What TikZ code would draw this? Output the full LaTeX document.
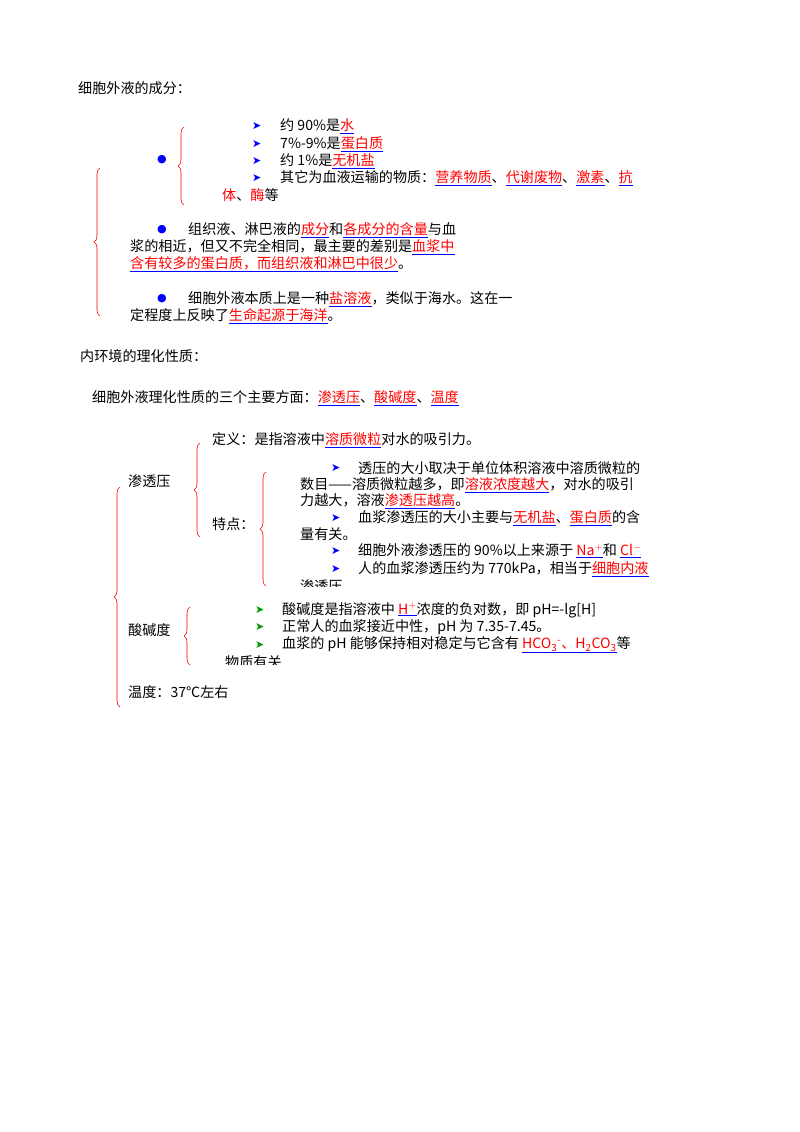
\documentclass[tikz,border=0pt]{standalone}
\usepackage{fontspec}
\setmainfont{Noto Sans CJK SC}
\newfontfamily\symfont{DejaVu Sans}
\usetikzlibrary{decorations.pathreplacing}
\newcommand\hl[1]{\textcolor{blue}{\underline{\textcolor{red}{#1}}}}
\newcommand\arr{\textcolor{blue}{\symfont\fontsize{11}{12}\selectfont ➤}}
\newcommand\garr{\textcolor{green!60!black}{\symfont\fontsize{11}{12}\selectfont ➤}}
\newcommand\dotb{\textcolor{blue}{\symfont\fontsize{11}{12}\selectfont ●}}
\tikzset{
  txt/.style={anchor=west,inner sep=0pt,font=\fontsize{14.1}{15}\selectfont},
  redbrace/.style={draw=red,semithick,decorate,decoration={brace,amplitude=6pt}}
}
\begin{document}
\begin{tikzpicture}[x=1pt,y=-1pt]
\useasboundingbox[fill=white] (0,0) rectangle (800,1132);
% part one
\node[txt] (t1) at (78,88) {细胞外液的成分：};
\coordinate (b1t) at (184,127); \coordinate (b1b) at (184,205);
\draw[redbrace] (b1b) -- (b1t);
\node[txt] (d1) at (157,160) {\dotb};
\node[txt] (a1) at (252,126) {\arr};
\node[txt] (a2) at (252,144) {\arr};
\node[txt] (a3) at (252,161) {\arr};
\node[txt] (a4) at (252,178) {\arr};
\node[txt] (l1) at (280,126) {约 90\%是\hl{水}};
\node[txt] (l2) at (280,144) {7\%-9\%是\hl{蛋白质}};
\node[txt] (l3) at (280,161) {约 1\%是\hl{无机盐}};
\node[txt] (l4) at (280,178) {其它为血液运输的物质：\hl{营养物质}、\hl{代谢废物}、\hl{激素}、\hl{抗}};
\node[txt] (l5) at (222,195) {\textcolor{red}{体}、\textcolor{red}{酶}等};
\coordinate (b2t) at (100,168); \coordinate (b2b) at (100,316);
\draw[redbrace] (b2b) -- (b2t);
\node[txt] (d2) at (157,230) {\dotb};
\node[txt] (p1) at (188,230) {组织液、淋巴液的\hl{成分}和\hl{各成分的含量}与血};
\node[txt] (p2) at (130,247) {浆的相近，但又不完全相同，最主要的差别是\hl{血浆中}};
\node[txt] (p3) at (130,264) {\hl{含有较多的蛋白质，而组织液和淋巴中很少}。};
\node[txt] (d3) at (157,299) {\dotb};
\node[txt] (q1) at (188,299) {细胞外液本质上是一种\hl{盐溶液}，类似于海水。这在一};
\node[txt] (q2) at (130,316) {定程度上反映了\hl{生命起源于海洋}。};
% part two
\node[txt] (t2) at (80,356) {内环境的理化性质：};
\node[txt] (t3) at (92,398) {细胞外液理化性质的三个主要方面：\hl{渗透压}、\hl{酸碱度}、\hl{温度}};
\coordinate (b3t) at (120,487); \coordinate (b3b) at (120,707);
\draw[redbrace] (b3b) -- (b3t);
\node[txt] (s1) at (128,481) {渗透压};
\coordinate (b4t) at (200,443); \coordinate (b4b) at (200,537);
\draw[redbrace] (b4b) -- (b4t);
\node[txt] (s2) at (212,440) {定义：是指溶液中\hl{溶质微粒}对水的吸引力。};
\node[txt] (s3) at (212,524) {特点：};
\coordinate (b5t) at (266,472); \coordinate (b5b) at (266,586);
\draw[redbrace] (b5b) -- (b5t);
\node[txt] (e1) at (331,468) {\arr};
\node[txt] (e2) at (331,518) {\arr};
\node[txt] (e3) at (331,551) {\arr};
\node[txt] (e4) at (331,569) {\arr};
\node[txt] (f1) at (358,468) {透压的大小取决于单位体积溶液中溶质微粒的};
\node[txt] (f2) at (300,485) {数目——溶质微粒越多，即\hl{溶液浓度越大}，对水的吸引};
\node[txt] (f3) at (300,501) {力越大，溶液\hl{渗透压越高}。};
\node[txt] (f4) at (358,518) {血浆渗透压的大小主要与\hl{无机盐}、\hl{蛋白质}的含};
\node[txt] (f5) at (300,534) {量有关。};
\node[txt] (f6) at (358,551) {细胞外液渗透压的 90\%以上来源于 \hl{Na$^+$}和 \hl{Cl$^-$}};
\node[txt] (f7) at (358,569) {人的血浆渗透压约为 770kPa，相当于\hl{细胞内液}};
\begin{scope}
\clip (290,578) rectangle (360,586);
\node[txt] (f8) at (300,586) {渗透压};
\end{scope}
\node[txt] (s4) at (128,630) {酸碱度};
\coordinate (b6t) at (190,607); \coordinate (b6b) at (190,665);
\draw[redbrace] (b6b) -- (b6t);
\node[txt] (g1) at (255,610) {\garr};
\node[txt] (g2) at (255,627) {\garr};
\node[txt] (g3) at (255,645) {\garr};
\node[txt] (h1) at (282,610) {酸碱度是指溶液中 \hl{H$^+$}浓度的负对数，即 pH=-lg[H]};
\node[txt] (h2) at (282,627) {正常人的血浆接近中性，pH 为 7.35-7.45。};
\node[txt] (h3) at (282,645) {血浆的 pH 能够保持相对稳定与它含有 \hl{HCO\textsubscript{3}\textsuperscript{-}、H\textsubscript{2}CO\textsubscript{3}}等};
\begin{scope}
\clip (215,655) rectangle (290,664);
\node[txt] (h4) at (225,662) {物质有关};
\end{scope}
\node[txt] (s5) at (128,692) {温度：37℃左右};
\end{tikzpicture}
\end{document}
